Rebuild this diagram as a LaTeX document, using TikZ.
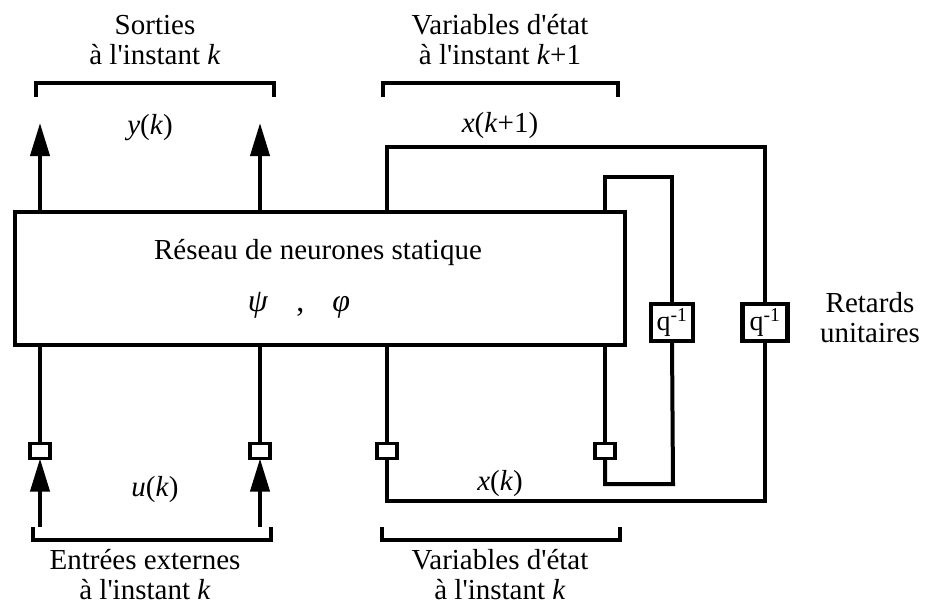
\documentclass[tikz,border=0pt]{standalone}
\usepackage{fontspec}
\setmainfont{Liberation Serif}[Ligatures=TeXOff]
\usetikzlibrary{arrows.meta}
\begin{document}
\begin{tikzpicture}[x=1pt,y=-1pt,
  ln/.style={line width=4pt},
  thin/.style={line width=3.4pt},
  blk/.style={draw, line width=4.5pt, outer sep=0pt, inner sep=0pt},
  sqbox/.style={draw, line width=3.4pt, minimum width=20pt, minimum height=15pt, inner sep=0pt, outer sep=0pt, fill=white},
  qbox/.style={draw, line width=4.5pt, inner sep=0pt, outer sep=0pt, minimum height=37pt, font=\fontsize{28}{28}\selectfont},
  lbl/.style={font=\fontsize{29}{30}\selectfont, align=center, inner sep=0pt},
  arr/.style={ln, -{Triangle[length=33pt,width=19pt]}},
  brk/.style={line width=3.8pt}]
\useasboundingbox (0,0) rectangle (926,607);

% main box
\node[blk, minimum width=610pt, minimum height=133pt] (net) at (320,278.5) {};
\node[lbl] (title) at (318,253) {Réseau de neurones statique};
\node[lbl, font=\fontsize{32}{32}\selectfont] (fun) at (299,305) {\textit{ψ}\hspace{28pt},\hspace{28pt}\textit{φ}};

% small squares
\node[sqbox] (sq1) at (40,451) {};
\node[sqbox] (sq2) at (260,451) {};
\node[sqbox] (sq3) at (387,451) {};
\node[sqbox] (sq4) at (605,451) {};

% delay boxes
\node[qbox, minimum width=42pt] (qa) at (672,322.5) {q\textsuperscript{-1}};
\node[qbox, minimum width=45pt] (qb) at (765,322.5) {q\textsuperscript{-1}};

% coordinates
\coordinate (o1) at (40,123);
\coordinate (o2) at (260,123);
\coordinate (i1) at (40,527);
\coordinate (i2) at (260,527);
\coordinate (otl) at (387,147);
\coordinate (obr) at (765,501);
\coordinate (itl) at (605,177);
\coordinate (ibr) at (673,484);

% outputs
\draw[arr] (net.north -| o1) -- (o1);
\draw[arr] (net.north -| o2) -- (o2);

% inputs
\draw[arr] (i1) -- (sq1.south);
\draw[arr] (i2) -- (sq2.south);
\draw[thin] (sq1.north) -- (sq1.north |- net.south);
\draw[thin] (sq2.north) -- (sq2.north |- net.south);
\draw[thin] (sq3.north) -- (sq3.north |- net.south);
\draw[thin] (sq4.north) -- (sq4.north |- net.south);

% outer loop
\draw[ln] (net.north -| otl) -- (otl) -| (qb.north);
\draw[ln] (qb.south) -- (obr) -| (sq3.south);

% inner loop
\draw[ln] (net.north -| itl) -- (itl) -| (qa.north);
\draw[ln] (qa.south) -- (ibr) -| (sq4.south);

% brackets
\coordinate (b1a) at (36,97);  \coordinate (b1b) at (274,97);
\coordinate (b2a) at (383,97); \coordinate (b2b) at (618,97);
\coordinate (b3a) at (33,527); \coordinate (b3b) at (271,527);
\coordinate (b4a) at (382,527); \coordinate (b4b) at (620,527);
\draw[brk] (b1a) -- ++(0,-14) -| (b1b);
\draw[brk] (b2a) -- ++(0,-14) -| (b2b);
\draw[brk] (b3a) -- ++(0,13) -| (b3b);
\draw[brk] (b4a) -- ++(0,13) -| (b4b);

% labels
\node[lbl] (tsort) at (155,40) {Sorties\\à l'instant \textit{k}};
\node[lbl] (tvar1) at (500,40) {Variables d'état\\à l'instant \textit{k}+1};
\node[lbl] (ty) at (150,128) {\textit{y}(\textit{k})};
\node[lbl] (tx1) at (500,126) {\textit{x}(\textit{k}+1)};
\node[lbl] (tu) at (155,490) {\textit{u}(\textit{k})};
\node[lbl] (tx) at (500,484) {\textit{x}(\textit{k})};
\node[lbl] (tent) at (145,575) {Entrées externes\\à l'instant \textit{k}};
\node[lbl] (tvar) at (500,575) {Variables d'état\\à l'instant \textit{k}};
\node[lbl] (tret) at (870,318) {Retards\\unitaires};
\end{tikzpicture}
\end{document}
